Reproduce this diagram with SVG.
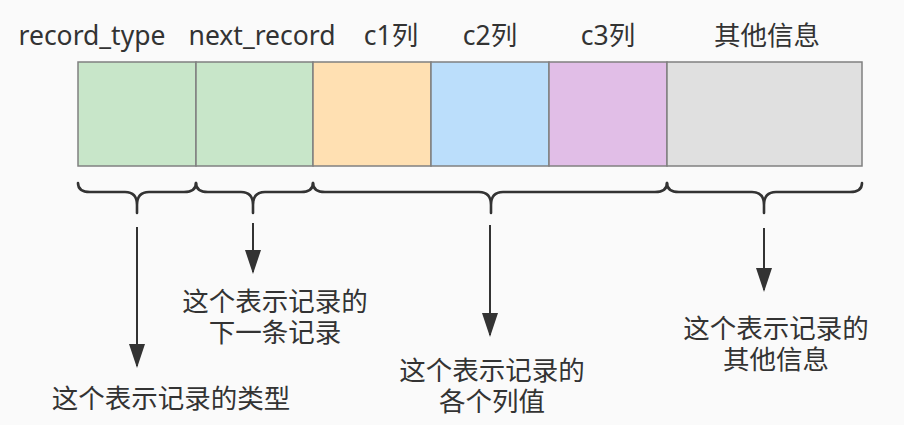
<svg xmlns="http://www.w3.org/2000/svg" width="904" height="425" viewBox="0 0 904 425">
<defs>
<style>
text{font-family:"Noto Sans","Noto Sans CJK SC",sans-serif;font-size:26.5px;fill:#333;text-anchor:middle}
text.zh{font-family:"Liberation Sans","Noto Sans CJK SC",sans-serif}
.cell{stroke:#808080;stroke-width:1.5}
.brace{fill:none;stroke:#333;stroke-width:2.6;stroke-linecap:round;stroke-linejoin:round}
.arrow{fill:none;stroke:#333;stroke-width:2}
</style>
<marker id="ah" viewBox="0 0 24 16" refX="22" refY="8" markerWidth="24" markerHeight="16" markerUnits="userSpaceOnUse" orient="auto">
<path d="M0,0 L24,8 L0,16 Z" fill="#333"/>
</marker>
</defs>
<rect width="904" height="425" fill="#fafafa"/>
<g id="labels-top">
<text x="92" y="45">record_type</text>
<text x="262" y="45">next_record</text>
<text x="391" y="45">c1列</text>
<text x="490" y="45">c2列</text>
<text x="608" y="45">c3列</text>
<text x="767" y="45">其他信息</text>
</g>
<g id="record_type"><rect class="cell" x="78" y="62" width="118" height="104" fill="#c8e6c9"/></g>
<g id="next_record"><rect class="cell" x="196" y="62" width="117" height="104" fill="#c8e6c9"/></g>
<g id="c1"><rect class="cell" x="313" y="62" width="118" height="104" fill="#ffe0b2"/></g>
<g id="c2"><rect class="cell" x="431" y="62" width="118" height="104" fill="#bbdefb"/></g>
<g id="c3"><rect class="cell" x="549" y="62" width="118" height="104" fill="#e1bee7"/></g>
<g id="other"><rect class="cell" x="667" y="62" width="195" height="104" fill="#e0e0e0"/></g>
<g id="braces">
<path class="brace" d="M78,183 Q78,192 90,192 L125,192 Q137,192 137,205 L137,213 M137,205 Q137,192 149,192 L184,192 Q196,192 196,183"/>
<path class="brace" d="M196,183 Q196,192 208,192 L241,192 Q253,192 253,205 L253,213 M253,205 Q253,192 265,192 L301,192 Q313,192 313,183"/>
<path class="brace" d="M313,183 Q313,192 325,192 L479,192 Q491,192 491,205 L491,213 M491,205 Q491,192 503,192 L655,192 Q667,192 667,183"/>
<path class="brace" d="M667,183 Q667,192 679,192 L752,192 Q764,192 764,205 L764,213 M764,205 Q764,192 776,192 L850,192 Q862,192 862,183"/>
</g>
<g id="connectors">
<line class="arrow" x1="137" y1="227" x2="137" y2="366" marker-end="url(#ah)"/>
<line class="arrow" x1="253" y1="223" x2="253" y2="272" marker-end="url(#ah)"/>
<line class="arrow" x1="490" y1="225" x2="490" y2="335" marker-end="url(#ah)"/>
<line class="arrow" x1="764" y1="228" x2="764" y2="290" marker-end="url(#ah)"/>
</g>
<g id="desc-type"><text class="zh" x="171" y="408">这个表示记录的类型</text></g>
<g id="desc-next"><text class="zh" x="275" y="311">这个表示记录的<tspan x="275" dy="31">下一条记录</tspan></text></g>
<g id="desc-cols"><text class="zh" x="492" y="380">这个表示记录的<tspan x="492" dy="31">各个列值</tspan></text></g>
<g id="desc-other"><text class="zh" x="776" y="338">这个表示记录的<tspan x="776" dy="31">其他信息</tspan></text></g>
</svg>
